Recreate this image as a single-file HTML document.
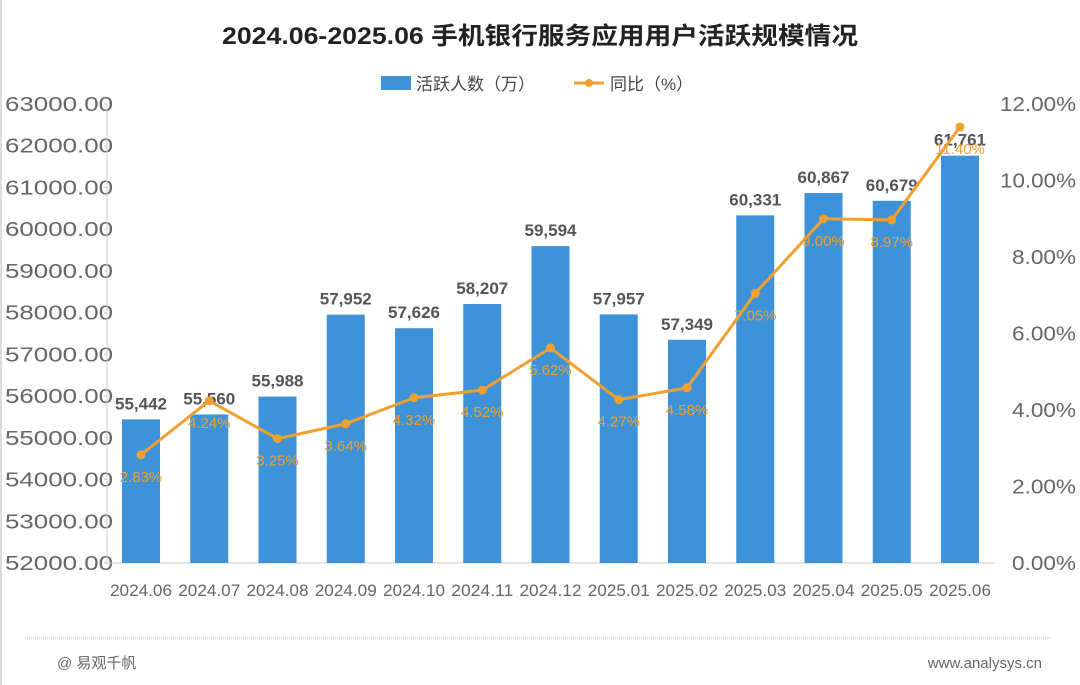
<!DOCTYPE html><html><head><meta charset="utf-8"><style>body{margin:0;background:#fff}svg{display:block}text{font-family:"Liberation Sans","Noto Sans CJK SC",sans-serif}</style></head><body>
<svg width="1080" height="685" viewBox="0 0 1080 685">
<rect x="0" y="0" width="2" height="685" fill="#ddd"/>
<text x="540" y="44" text-anchor="middle" font-size="24" font-weight="bold" fill="#222" textLength="636" lengthAdjust="spacingAndGlyphs">2024.06-2025.06  手机银行服务应用用户活跃规模情况</text>
<rect x="381" y="76" width="30" height="14" fill="#3e93d8"/><text x="416" y="90" font-size="17" fill="#444">活跃人数（万）</text>
<line x1="574" y1="83" x2="604" y2="83" stroke="#f0a030" stroke-width="3"/><circle cx="589" cy="83" r="4" fill="#f0a030"/><text x="610" y="90" font-size="17" fill="#444">同比（%）</text>
<g font-size="20" fill="#666" id="ly"></g>
<line x1="107" y1="104" x2="107" y2="563" stroke="#ccc"/>
<line x1="107" y1="563" x2="995" y2="563" stroke="#ccc"/>
<g id="c"></g>
<line x1="25" y1="638" x2="1050" y2="638" stroke="#bbb" stroke-dasharray="1,1"/>
<text x="57" y="668" font-size="15" fill="#666">@ 易观千帆</text>
<text x="1042" y="668" font-size="15" fill="#666" text-anchor="end">www.analysys.cn</text>
</svg>
<script>
const ns="http://www.w3.org/2000/svg";
function el(p,t,a,tx){const e=document.createElementNS(ns,t);for(const k in a)e.setAttribute(k,a[k]);if(tx!=null)e.textContent=tx;p.appendChild(e);return e;}
const ly=document.getElementById('ly'),c=document.getElementById('c');
for(let i=0;i<=11;i++){const y=563-i*41.73;el(ly,'text',{x:5,y:y+7,textLength:108,lengthAdjust:'spacingAndGlyphs'},(52000+i*1000)+'.00');
el(c,'line',{x1:104,x2:107,y1:y,y2:y,stroke:'#ccc'});}
for(let i=0;i<=6;i++){const y=563-i*76.5;const t=(i*2).toFixed(2)+'%';el(c,'text',{x:1076-(t.length==6?76:64),y:y+7,'font-size':20,fill:'#666',textLength:t.length==6?76:64,lengthAdjust:'spacingAndGlyphs'},t);}
const labs=['2024.06','2024.07','2024.08','2024.09','2024.10','2024.11','2024.12','2025.01','2025.02','2025.03','2025.04','2025.05','2025.06'];
const v=[55442,55560,55988,57952,57626,58207,59594,57957,57349,60331,60867,60679,61761];
const p=[2.83,4.24,3.25,3.64,4.32,4.52,5.62,4.27,4.58,7.05,9.00,8.97,11.40];
const pts=[];
for(let i=0;i<13;i++){const x=141+68.25*i,y=563-(v[i]-52000)*0.04173;
el(c,'rect',{x:x-19,y:y,width:38,height:563-y,fill:'#3e93d8'});
el(c,'text',{x:x,y:y-10,'font-size':17,'font-weight':'bold',fill:'#555','text-anchor':'middle'},v[i].toLocaleString('en-US'));
el(c,'text',{x:x,y:596,'font-size':17,fill:'#666','text-anchor':'middle',textLength:62,lengthAdjust:'spacingAndGlyphs'},labs[i]);
pts.push([x,563-p[i]*38.25]);}
el(c,'polyline',{points:pts.map(q=>q.join(',')).join(' '),fill:'none',stroke:'#f0a030','stroke-width':3});
pts.forEach((q,i)=>{el(c,'circle',{cx:q[0],cy:q[1],r:4.5,fill:'#f0a030'});
el(c,'text',{x:q[0],y:q[1]+27,'font-size':15,fill:'#f0a030','text-anchor':'middle'},p[i].toFixed(2)+'%');});
</script></body></html>
